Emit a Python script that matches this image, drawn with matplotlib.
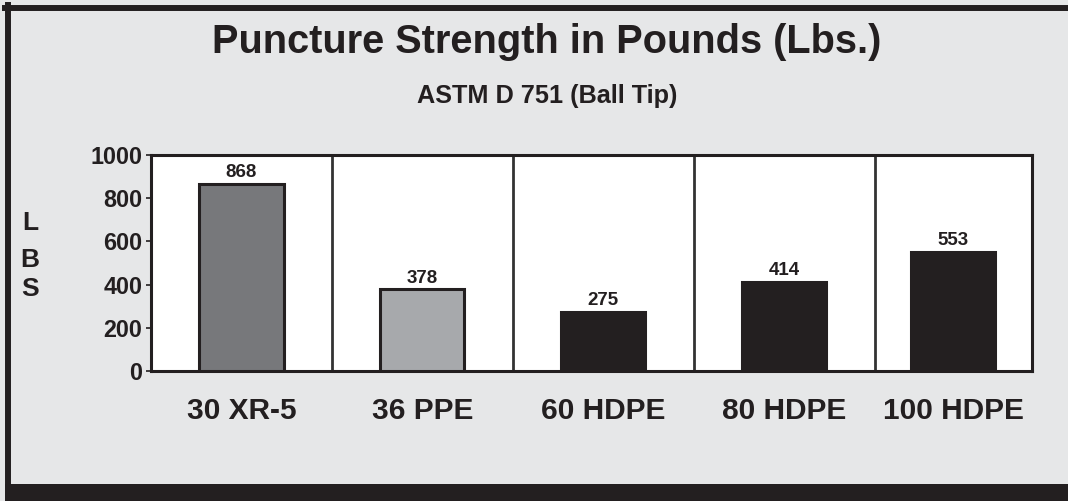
import matplotlib.pyplot as plt
from matplotlib.patches import Rectangle
from matplotlib.lines import Line2D

# data
materials = ['30 XR-5', '36 PPE', '60 HDPE', '80 HDPE', '100 HDPE']
strength = [868, 378, 275, 414, 553]
bar_colors = ['#77787b', '#a7a9ac', '#231f20', '#231f20', '#231f20']
yticks = [0, 200, 400, 600, 800, 1000]

ink = '#231f20'
bg = '#e6e7e8'
plt.rcParams['font.family'] = ['Liberation Sans', 'DejaVu Sans']
plt.rcParams['font.weight'] = 'bold'

fig = plt.figure(figsize=(10.68, 5.01), dpi=100, facecolor=bg)
ax = fig.add_axes([151/1068, 1 - 371/501, 881/1068, 216/501])
ax.set_facecolor('white')

# section edges: the last panel is a bit narrower than the others
edges = [-0.5, 0.5, 1.5, 2.5, 3.5, 4.37]
centers = [(edges[i] + edges[i+1]) / 2 for i in range(len(materials))]

bars = ax.bar(centers, strength, width=0.465, color=bar_colors,
              edgecolor=ink, linewidth=2.2, zorder=3)
for x, v in zip(centers, strength):
    ax.annotate(str(v), (x, v), xytext=(0, 4.5), textcoords='offset points',
                ha='center', va='baseline', fontsize=13.5, fontweight='bold',
                color=ink)

for e in edges[1:-1]:
    ax.axvline(e, color='#333333', linewidth=2, zorder=2)

ax.set_xlim(edges[0], edges[-1])
ax.set_ylim(0, 1000)
ax.set_yticks(yticks)
ax.set_yticklabels([str(t) for t in yticks], fontsize=16.8, fontweight='bold', color=ink)
ax.set_xticks(centers)
ax.set_xticklabels(materials, fontsize=21.5, fontweight='bold', color=ink)
ax.tick_params(axis='y', direction='out', length=3.6, width=1.2, color=ink, pad=2.5)
ax.tick_params(axis='x', length=0, pad=19)
for s in ax.spines.values():
    s.set_linewidth(2.2)
    s.set_color(ink)

fig.text(0.512, 1 - 53/501, 'Puncture Strength in Pounds (Lbs.)', ha='center',
         va='baseline', fontsize=28.6, fontweight='bold', color=ink)
fig.text(0.5126, 1 - 103/501, 'ASTM D 751 (Ball Tip)', ha='center',
         va='baseline', fontsize=18.2, fontweight='bold', color=ink)

for letter, yb in zip(['L', 'B', 'S'], [230, 267, 296]):
    fig.text(30/1068, 1 - yb/501, letter, ha='center', va='baseline',
             fontsize=19, fontweight='bold', color=ink)

# frame around the panel
fig.add_artist(Line2D([8/1068, 8/1068], [0, 1 - 5/501], transform=fig.transFigure,
                      color=ink, linewidth=4.3))
fig.add_artist(Line2D([5/1068, 1], [1 - 8/501, 1 - 8/501], transform=fig.transFigure,
                      color=ink, linewidth=4.3))
fig.add_artist(Rectangle((5/1068, 0), 1, 17/501, transform=fig.transFigure,
                         facecolor=ink, edgecolor='none'))

fig.savefig('out.png', dpi=100, facecolor=bg)
